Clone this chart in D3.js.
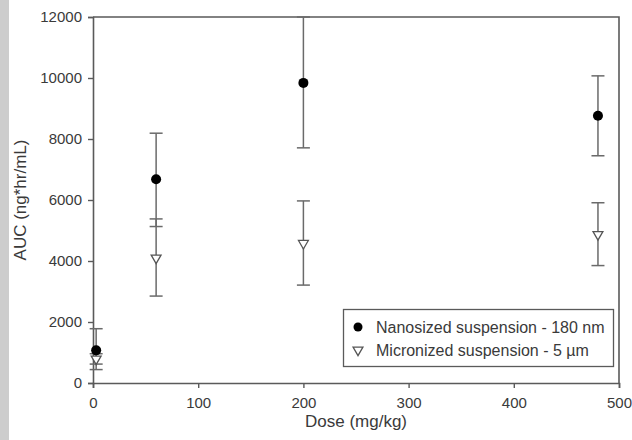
<!DOCTYPE html>
<html>
<head>
<meta charset="utf-8">
<script src="https://cdn.jsdelivr.net/npm/d3@7"></script>
<style>
  html, body { margin: 0; padding: 0; background: #fff; }
  svg { display: block; }
  text { font-family: "Liberation Sans", Arial, Helvetica, sans-serif; fill: #3a3a3a; }
</style>
</head>
<body>
<svg id="chart" width="632" height="440"></svg>
<script>
// Dose levels (mg/kg)
const doses = [3, 60, 200, 480];

// Nanosized suspension - 180 nm: mean AUC and error bar limits
const nanoMean  = [1070, 6680, 9840, 8760];
const nanoLow   = [440, 5130, 7710, 7450];
const nanoHigh  = [1780, 8190, 12000, 10070];

// Micronized suspension - 5 µm: mean AUC and error bar limits
const microMean = [790, 4100, 4580, 4870];
const microLow  = [620, 2850, 3210, 3850];
const microHigh = [960, 5380, 5970, 5910];

const xTicks = [0, 100, 200, 300, 400, 500];
const yTicks = [0, 2000, 4000, 6000, 8000, 10000, 12000];

const seriesNames = ["Nanosized suspension - 180 nm", "Micronized suspension - 5 \u00b5m"];

const svg = d3.select("#chart");
const W = 632, H = 440;
const margin = { left: 93, right: 13, top: 17, bottom: 57 };
const x0 = margin.left, x1 = W - margin.right;
const y0 = H - margin.bottom, y1 = margin.top;

// grey strip along the left edge
svg.append("rect").attr("x", 0).attr("y", 0).attr("width", 9).attr("height", H).attr("fill", "#cdcdcd");

const x = d3.scaleLinear().domain([0, 500]).range([x0, x1]);
const y = d3.scaleLinear().domain([0, 12000]).range([y0, y1]);

const axisColor = "#5a5a5a";
const barColor = "#6a6a6a";

// frame (top and right)
svg.append("path")
  .attr("d", `M${x0},${y1}H${x1}V${y0}`)
  .attr("fill", "none").attr("stroke", axisColor).attr("stroke-width", 1.6);

// axes
const xAxis = svg.append("g").attr("transform", `translate(0,${y0})`)
  .call(d3.axisBottom(x).tickValues(xTicks).tickSize(5).tickPadding(9).tickFormat(d3.format("d")));
const yAxis = svg.append("g").attr("transform", `translate(${x0},0)`)
  .call(d3.axisLeft(y).tickValues(yTicks).tickSize(5).tickPadding(6).tickFormat(d3.format("d")));

[xAxis, yAxis].forEach(g => {
  g.select(".domain").attr("stroke", axisColor).attr("stroke-width", 1.6);
  g.selectAll(".tick line").attr("stroke", axisColor).attr("stroke-width", 1.4);
  g.selectAll(".tick text").attr("font-size", 15).style("fill", "#3a3a3a")
    .attr("font-family", "Liberation Sans, Arial, sans-serif");
});

// axis titles
svg.append("text")
  .attr("x", (x0 + x1) / 2).attr("y", 427)
  .attr("text-anchor", "middle").attr("font-size", 17)
  .text("Dose (mg/kg)");
svg.append("text")
  .attr("transform", `translate(26,${(y0 + y1) / 2}) rotate(-90)`)
  .attr("text-anchor", "middle").attr("font-size", 17)
  .text("AUC (ng*hr/mL)");

// error bars
function errorBars(low, high) {
  const g = svg.append("g").attr("stroke", barColor).attr("stroke-width", 1.5).attr("fill", "none");
  doses.forEach((d, i) => {
    const cx = x(d);
    g.append("line").attr("x1", cx).attr("x2", cx).attr("y1", y(low[i])).attr("y2", y(high[i]));
    g.append("line").attr("x1", cx - 6.5).attr("x2", cx + 6.5).attr("y1", y(low[i])).attr("y2", y(low[i]));
    g.append("line").attr("x1", cx - 6.5).attr("x2", cx + 6.5).attr("y1", y(high[i])).attr("y2", y(high[i]));
  });
}
errorBars(microLow, microHigh);
errorBars(nanoLow, nanoHigh);

// down-pointing open triangle
const tri = d3.symbol().type(d3.symbolTriangle).size(42);

function drawTriangle(g, cx, cy) {
  g.append("path").attr("d", tri())
    .attr("transform", `translate(${cx},${cy}) rotate(180)`)
    .attr("fill", "#fff").attr("stroke", "#555").attr("stroke-width", 1.3);
}

// micronized points
const microG = svg.append("g");
doses.forEach((d, i) => drawTriangle(microG, x(d), y(microMean[i])));

// nanosized points
svg.append("g").selectAll("circle").data(doses).join("circle")
  .attr("cx", d => x(d)).attr("cy", (d, i) => y(nanoMean[i]))
  .attr("r", 5).attr("fill", "#000");

// legend
const lg = svg.append("g");
lg.append("rect").attr("x", 343.5).attr("y", 309.5).attr("width", 270).attr("height", 57)
  .attr("fill", "#fff").attr("stroke", axisColor).attr("stroke-width", 1.3);
lg.append("circle").attr("cx", 358).attr("cy", 327).attr("r", 4.5).attr("fill", "#000");
drawTriangle(lg, 358, 350);
lg.append("text").attr("x", 376).attr("y", 332.5).attr("font-size", 16).text(seriesNames[0]);
lg.append("text").attr("x", 376).attr("y", 356).attr("font-size", 16).text(seriesNames[1]);
</script>
</body>
</html>
